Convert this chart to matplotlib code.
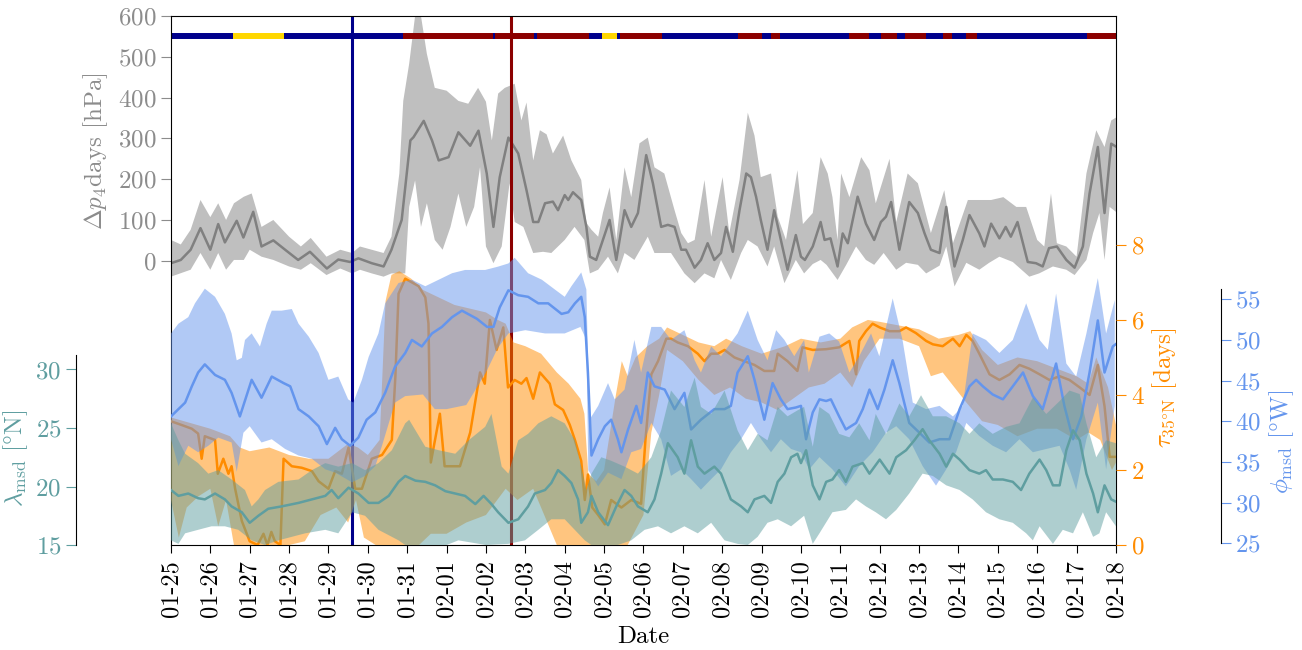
import numpy as np
import pandas as pd
import matplotlib
matplotlib.use('Agg')
import matplotlib.pyplot as plt

plt.rcParams['font.family'] = 'serif'
plt.rcParams['font.serif'] = ['cmr10']
plt.rcParams['mathtext.fontset'] = 'cm'
plt.rcParams['axes.formatter.use_mathtext'] = True
plt.rcParams['axes.unicode_minus'] = False

# time axis in days since 01-25
start_date = '2000-01-25'
n_days = 24

# --- Delta p (4 days) [hPa]
dp_t = [0, 0.25, 0.5, 0.75, 1.0, 1.2, 1.37, 1.67, 1.84, 2.09, 2.3, 2.6, 2.9, 3.23, 3.53, 3.96, 4.25, 4.55, 4.76, 5.1,
        5.4, 5.6, 5.86, 6.08, 6.16, 6.42, 6.63, 6.8, 7.05, 7.3, 7.6, 7.81, 8.02, 8.19, 8.35, 8.57, 8.82, 9.03, 9.2, 9.33,
        9.5, 9.7, 9.83, 10.0, 10.09, 10.21, 10.42, 10.55, 10.64, 10.8, 10.97, 11.14, 11.31, 11.52, 11.69, 11.86, 12.07,
        12.24, 12.45, 12.62, 12.79, 12.96, 13.08, 13.3, 13.46, 13.63, 13.8, 13.97, 14.1, 14.27, 14.44, 14.61, 14.73,
        14.86, 14.98, 15.15, 15.32, 15.49, 15.66, 15.87, 16.0, 16.1, 16.3, 16.5, 16.6, 16.75, 16.93, 17.06, 17.19, 17.44,
        17.65, 17.86, 18.03, 18.16, 18.29, 18.5, 18.75, 18.97, 19.14, 19.3, 19.52, 19.69, 19.9, 20.11, 20.28, 20.53,
        20.66, 20.83, 21.04, 21.2, 21.33, 21.5, 21.76, 21.97, 22.14, 22.3, 22.5, 22.74, 22.95, 23.16, 23.33, 23.54,
        23.71, 23.88, 24.0]
dp_mean = [-6, 2, 27, 80, 27, 90, 45, 98, 57, 120, 35, 50, 27, 2, 22, -19, 3, -3, 6, -6,
           -14, 27, 100, 295, 303, 343, 295, 246, 254, 315, 282, 319, 214, 83, 205, 302, 263, 173, 95, 95,
           141, 145, 124, 161, 149, 168, 149, 83, 10, 2, 51, 100, 2, 124, 83, 117, 259,
           190, 83, 88, 83, 27, 27, -17, 2, 43, 2, 19, 83, 22, 124, 214, 205,
           157, 100, 27, 124, 51, -22, 63, 10, 2, 35, 95, 51, 55, -14, 67, 43, 157,
           91, 51, 95, 108, 144, 27, 144, 117, 67, 27, 19, 132, -14, 51, 112, 67,
           35, 91, 55, 83, 59, 95, -3, -6, -14, 31, 35, 2, -17, 35, 165, 279,
           117, 287, 280]
dp_hi_t = [0, 0.25, 0.5, 0.75, 1.0, 1.2, 1.4, 1.6, 1.85, 2.05, 2.3, 2.6, 3.0, 3.3, 3.55, 3.95, 4.3, 4.6, 4.8, 5.1,
           5.4, 5.6, 5.8, 5.9, 6.05, 6.2, 6.35, 6.5, 6.7, 7.0, 7.3, 7.55, 7.8, 8.0, 8.15, 8.31, 8.48, 8.73, 8.9, 9.03,
           9.2, 9.37, 9.54, 9.7, 9.96, 10.17, 10.42, 10.55, 10.68, 10.85, 10.97, 11.14, 11.31, 11.52, 11.69, 11.9,
           12.11, 12.28, 12.53, 12.79, 12.96, 13.13, 13.3, 13.55, 13.72, 14.01, 14.18, 14.44, 14.65, 14.82, 14.98,
           15.24, 15.41, 15.62, 15.91, 16.05, 16.3, 16.5, 16.68, 16.8, 16.93, 17.02, 17.23, 17.53, 17.74, 17.9, 18.25,
           18.42, 18.71, 18.97, 19.3, 19.64, 19.86, 20.24, 20.58, 20.83, 21.14, 21.47, 21.72, 22.0, 22.18, 22.35,
           22.5, 22.74, 23.0, 23.25, 23.5, 23.71, 23.88, 24.0]
dp_hi = [51, 40, 76, 149, 107, 141, 100, 141, 157, 165, 83, 100, 59, 35, 56, 10, 27, 19, 35, 27,
         19, 59, 214, 392, 483, 600, 600, 507, 424, 417, 392, 385, 424, 390, 295, 410, 424, 434, 344, 388,
         246, 320, 310, 263, 307, 246, 198, 93, 76, 59, 117, 180, 51, 229, 156, 288,
         302, 229, 214, 124, 68, 43, 51, 198, 59, 205, 68, 198, 363, 307, 205,
         214, 108, 51, 222, 90, 117, 254, 214, 156, 51, 214, 156, 254, 222, 141, 250,
         95, 214, 190, 68, 173, 43, 149, 149, 149, 156, 132, 132, 51, 35, 165,
         43, 35, 10, 214, 320, 279, 344, 351]
dp_lo_t = [0, 0.5, 0.75, 1.0, 1.2, 1.4, 1.6, 1.85, 2.0, 2.3, 2.6, 3.0, 3.3, 3.55, 3.95, 4.3, 4.6, 4.8, 5.1, 5.4,
           5.6, 5.95, 6.05, 6.2, 6.35, 6.5, 6.7, 6.9, 7.1, 7.3, 7.5, 7.7, 7.85, 8.0, 8.19, 8.4, 8.6, 8.73, 8.95, 9.2,
           9.45, 9.66, 10.0, 10.25, 10.5, 10.64, 10.85, 11.1, 11.35, 11.52, 11.77, 12.11, 12.28, 12.7, 13.04, 13.3,
           13.55, 13.8, 13.97, 14.22, 14.48, 14.65, 14.9, 15.15, 15.32, 15.58, 15.87, 16.08, 16.3, 16.5, 16.65, 16.93,
           17.15, 17.4, 17.65, 17.86, 18.1, 18.42, 18.67, 18.97, 19.18, 19.52, 19.69, 19.9, 20.2, 20.53, 20.78, 21.04,
           21.38, 21.8, 22.05, 22.4, 22.74, 22.95, 23.25, 23.42, 23.58, 23.71, 23.84, 24.0]
dp_lo = [-39, -22, 19, -22, 19, -22, 2, 2, 27, 10, 2, -14, -22, -6, -35, -19, -31, -22, -31, -39,
         -31, -31, 132, 197, 83, 141, 51, 27, 83, 165, 83, 132, 230, 35, -6, 35, 190, 95, 83, 19,
         22, 19, 51, 83, 51, -31, -22, 10, -31, 19, 2, 59, 19, 19, -31, -55,
         -31, -43, 2, -47, 19, 51, 35, -14, 35, -55, 2, -31, -8, 2, -10, -47,
         -10, 35, 2, -10, 19, -22, -5, -10, -31, -12, 35, -63, -5, -22, -5, 10,
         -3, -39, -31, -14, -22, -35, 2, 68, 117, 2, 132, 120]

# --- tau 35N [days]
tau_t = [0, 0.27, 0.53, 0.69, 0.78, 0.86, 1.12, 1.19, 1.33, 1.46, 1.54, 1.63, 1.8, 2.0, 2.2, 2.35, 2.45, 2.55, 2.64,
         2.78, 2.86, 3.07, 3.32, 3.58, 3.75, 4.0, 4.17, 4.34, 4.51, 4.68, 4.85, 5.1, 5.36, 5.61, 5.7, 5.78, 5.95, 6.29,
         6.46, 6.54, 6.6, 6.83, 6.95, 7.34, 7.6, 7.85, 7.97, 8.1, 8.27, 8.44, 8.56, 8.73, 8.9, 9.03, 9.2, 9.37, 9.62,
         9.75, 9.96, 10.13, 10.26, 10.42, 10.51, 10.59, 10.7, 10.85, 11.02, 11.18, 11.44, 11.69, 11.94, 12.05, 12.2,
         12.37, 12.58, 12.7, 12.87, 13.13, 13.38, 13.55, 13.72, 13.89, 14.06, 14.31, 14.56, 14.82, 15.07, 15.32, 15.41,
         15.66, 15.91, 16.04, 16.3, 16.64, 16.97, 17.23, 17.4, 17.48, 17.65, 17.82, 18.0, 18.25, 18.5, 18.67, 18.92,
         19.18, 19.35, 19.6, 19.86, 20.03, 20.2, 20.36, 20.53, 20.79, 21.04, 21.3, 21.55, 21.8, 22.06, 22.31, 22.57,
         22.82, 23.08, 23.33, 23.54, 23.71, 23.84, 24.0]
tau_mean = [3.3, 3.2, 3.1, 2.97, 2.3, 2.9, 2.8, 1.9, 2.3, 1.9, 2.1, 1.5, 0.64, 0.1, 0.0, 0.3, 0.0, 0.35, 0.1,
            0.0, 2.3, 2.1, 2.06, 1.97, 1.7, 1.5, 1.97, 1.9, 2.6, 1.5, 1.5, 2.3, 2.4, 2.8, 4.5, 6.7, 7.1, 6.9,
            6.6, 5.9, 2.2, 3.5, 2.1, 2.1, 3.0, 4.6, 4.3, 6.0, 5.2, 5.8, 4.2, 4.4, 4.3, 4.45, 3.9, 4.6, 4.3,
            3.75, 3.6, 3.2, 2.8, 2.24, 1.2, 1.88, 1.0, 0.8, 0.55, 1.2, 1.0, 1.2, 1.1, 2.8, 4.55,
            4.9, 5.5, 5.5, 5.4, 5.3, 5.1, 4.9, 5.1, 5.1, 5.2, 5.0, 4.9, 4.8, 4.64, 4.64, 5.1,
            4.9, 4.64, 5.27, 5.2, 5.22, 5.27, 5.44, 4.55, 5.44, 5.7, 5.9, 5.8, 5.7, 5.7, 5.8, 5.65,
            5.44, 5.35, 5.3, 5.5, 5.3, 5.6, 5.44, 5.1, 4.55, 4.4, 4.55, 4.8, 4.7, 4.55, 4.4, 4.5,
            4.4, 4.2, 4.0, 4.8, 3.7, 2.35, 2.35]
tau_hi_t = [0, 0.5, 1.0, 1.5, 1.75, 2.0, 2.5, 3.0, 3.5, 4.0, 4.5, 4.75, 5.0, 5.3, 5.45, 5.6, 5.8, 6.1, 6.4, 6.8,
            7.2, 7.6, 8.0, 8.3, 8.5, 8.7, 9.0, 9.4, 9.8, 10.1, 10.4, 10.5, 10.6, 10.8, 11.0, 11.3, 11.45, 11.6, 11.8,
            12.1, 12.4, 12.6, 13.0, 13.4, 13.8, 14.1, 14.5, 15.0, 15.3, 15.6, 16.0, 16.5, 17.0, 17.3, 17.7, 18.0,
            18.5, 19.0, 19.5, 20.0, 20.3, 20.6, 21.0, 21.5, 22.0, 22.5, 23.0, 23.3, 23.5, 23.8, 24.0]
tau_hi = [3.4, 3.25, 3.1, 2.9, 2.6, 2.5, 2.6, 2.4, 2.3, 2.3, 2.7, 2.6, 2.4, 2.8, 6.5, 7.2, 7.3, 7.1, 6.8, 6.6,
          6.4, 6.3, 6.2, 6.0, 5.9, 5.4, 5.3, 5.1, 4.6, 4.3, 3.9, 3.5, 1.9, 1.7, 2.0, 4.0, 4.9, 4.5, 5.0,
          5.3, 5.5, 5.8, 5.6, 5.4, 5.3, 5.5, 5.3, 5.1, 5.2, 5.3, 5.5, 5.4, 5.5, 5.8, 6.0, 5.95,
          5.85, 5.75, 5.5, 5.6, 5.7, 5.2, 4.8, 5.0, 4.9, 4.7, 4.5, 4.3, 5.0, 4.2, 3.2]
tau_lo_t = [0, 0.2, 0.4, 0.7, 1.0, 1.2, 1.4, 1.6, 2.0, 3.0, 3.4, 3.8, 4.2, 4.5, 4.7, 4.9, 5.2, 5.5, 6.0, 6.3,
            6.6, 7.0, 7.5, 8.0, 8.5, 8.8, 9.2, 9.6, 9.8, 10.2, 10.6, 11.0, 11.6, 12.0, 12.2, 12.4, 12.6, 13.0, 13.4,
            13.8, 14.2, 14.6, 15.0, 15.4, 15.8, 16.2, 16.6, 17.0, 17.3, 17.6, 18.0, 18.5, 19.0, 19.3, 19.6, 19.9,
            20.2, 20.6, 21.0, 21.5, 22.0, 22.5, 23.0, 23.3, 23.6, 23.9, 24.0]
tau_lo = [1.2, 0.2, 1.0, 1.3, 1.5, 0.5, 1.2, 0.0, 0.0, 0.0, 0.1, 0.8, 1.0, 0.6, 1.2, 0.2, 0.0, 0.0, 0.0, 0.0,
          0.3, 0.3, 0.6, 0.8, 1.5, 1.2, 1.5, 0.5, 0.0, 0.0, 0.0, 0.0, 0.0, 0.8, 3.0, 4.0, 5.2, 4.9, 4.4,
          4.0, 4.2, 3.9, 3.8, 3.6, 3.9, 4.2, 4.3, 4.6, 4.2, 4.9, 5.5, 5.5, 5.3, 4.5, 4.6, 4.2,
          3.8, 3.3, 3.2, 2.9, 3.1, 3.1, 2.8, 3.0, 2.8, 2.0, 2.2]

# --- phi msd [deg W]
phi_t = [0, 0.19, 0.36, 0.53, 0.69, 0.86, 1.12, 1.37, 1.54, 1.75, 2.05, 2.3, 2.56, 2.86, 3.03, 3.24, 3.5, 3.75, 3.96,
         4.17, 4.34, 4.55, 4.76, 4.97, 5.19, 5.44, 5.69, 5.95, 6.12, 6.37, 6.63, 6.88, 7.14, 7.39, 7.77, 8.03, 8.19,
         8.35, 8.57, 8.82, 9.07, 9.33, 9.58, 9.92, 10.09, 10.26, 10.42, 10.51, 10.59, 10.68, 10.85, 11.02, 11.18,
         11.35, 11.44, 11.61, 11.82, 11.94, 12.11, 12.28, 12.54, 12.79, 13.04, 13.21, 13.46, 13.8, 14.06, 14.22,
         14.39, 14.65, 14.82, 15.07, 15.28, 15.49, 15.66, 15.87, 16.0, 16.13, 16.3, 16.47, 16.64, 16.76, 16.97,
         17.14, 17.4, 17.57, 17.74, 17.95, 18.12, 18.33, 18.5, 18.75, 19.01, 19.26, 19.52, 19.77, 20.03, 20.28,
         20.45, 20.62, 20.87, 21.13, 21.38, 21.64, 21.89, 22.14, 22.36, 22.48, 22.69, 22.91, 23.12, 23.33, 23.54,
         23.71, 23.92, 24.0]
phi_mean = [40.6, 41.5, 42.3, 44.3, 46.0, 47.0, 45.7, 45.1, 43.5, 40.6, 45.1, 42.9, 45.5, 44.7, 44.3, 41.5, 40.6,
            39.4, 37.2, 39.2, 37.8, 37.0, 38.0, 40.2, 41.1, 43.5, 46.7, 48.4, 50.0, 49.2, 50.8, 51.6, 52.8, 53.6,
            52.6, 51.6, 51.6, 54.0, 56.1, 55.5, 55.3, 54.5, 54.5, 53.2, 53.4, 54.5, 55.3, 52.8, 46.0, 35.8, 37.8,
            39.4, 40.2, 37.8, 36.2, 39.0, 41.9, 39.8, 46.0, 44.3, 43.9, 41.5, 43.5, 39.0, 40.2, 41.5, 41.5, 41.9,
            46.0, 48.0, 45.1, 40.2, 44.7, 42.7, 41.5, 41.7, 41.9, 37.8, 41.1, 42.7, 42.5, 42.7, 40.6, 39.0, 39.8,
            41.5, 43.9, 41.5, 43.9, 47.5, 44.7, 39.8, 38.6, 37.4, 37.8, 37.8, 41.5, 44.3, 45.1, 44.3, 43.3, 42.7,
            44.3, 46.0, 43.1, 41.5, 45.1, 47.1, 41.9, 37.8, 40.6, 46.0, 52.4, 46.0, 49.2, 49.5]
phi_hi_t = [0, 0.19, 0.44, 0.61, 0.86, 1.12, 1.37, 1.54, 1.67, 1.8, 1.88, 2.05, 2.26, 2.43, 2.56, 2.81, 3.07, 3.24,
            3.5, 3.75, 4.0, 4.25, 4.5, 4.63, 4.85, 5.02, 5.27, 5.44, 5.78, 6.12, 6.46, 6.8, 7.14, 7.47, 7.98, 8.3,
            8.57, 8.73, 9.07, 9.42, 9.75, 10.0, 10.17, 10.42, 10.55, 10.63, 10.85, 11.1, 11.27, 11.52, 11.77, 11.94,
            12.2, 12.45, 12.7, 13.04, 13.3, 13.46, 13.72, 13.97, 14.39, 14.65, 14.9, 15.15, 15.37, 15.58, 15.83,
            16.08, 16.2, 16.47, 16.72, 16.97, 17.23, 17.48, 17.78, 17.99, 18.33, 18.58, 18.84, 19.18, 19.52, 19.86,
            20.11, 20.36, 20.7, 21.04, 21.38, 21.72, 22.06, 22.27, 22.48, 22.74, 22.99, 23.25, 23.54, 23.75, 23.97]
phi_hi = [50.8, 52.0, 52.8, 54.5, 56.3, 55.3, 53.2, 50.8, 47.5, 47.8, 50.0, 50.8, 49.2, 52.0, 53.6, 53.6, 53.8, 52.0,
          50.4, 48.4, 45.1, 45.5, 42.7, 42.3, 45.1, 47.9, 50.8, 54.5, 57.0, 57.4, 56.6, 57.4, 58.2, 58.6, 58.6, 59.0,
          59.4, 60.1, 58.2, 57.4, 56.2, 55.3, 56.6, 58.3, 56.2, 40.2, 41.9, 44.7, 42.7, 43.9, 50.0, 46.0,
          51.6, 51.6, 50.0, 51.2, 47.5, 46.0, 49.2, 48.0, 50.8, 53.6, 50.0, 47.5, 51.2, 50.0, 48.0,
          50.0, 46.0, 50.4, 50.8, 49.8, 46.0, 48.0, 50.8, 48.0, 55.1, 50.0, 42.3, 41.5, 41.9, 40.6,
          41.9, 50.8, 50.0, 48.4, 50.0, 54.5, 50.0, 48.8, 55.7, 47.1, 45.5, 50.8, 57.6, 50.8, 54.9]
phi_lo_t = [0, 0.19, 0.44, 0.69, 0.95, 1.2, 1.54, 1.67, 1.84, 2.0, 2.3, 2.56, 2.9, 3.24, 3.58, 3.92, 4.17, 4.6, 4.93,
            5.19, 5.36, 5.69, 5.95, 6.4, 6.7, 7.0, 7.5, 8.0, 8.3, 8.57, 9.0, 9.5, 10.0, 10.4, 10.55, 10.6, 10.85,
            11.1, 11.44, 11.69, 11.94, 12.2, 12.45, 12.7, 12.96, 13.21, 13.46, 13.72, 13.97, 14.22, 14.48, 14.73,
            14.99, 15.24, 15.49, 15.75, 16.0, 16.21, 16.47, 16.8, 17.14, 17.48, 17.82, 18.16, 18.42, 18.75, 19.09,
            19.43, 19.69, 19.94, 20.2, 20.53, 20.87, 21.21, 21.55, 21.89, 22.23, 22.57, 22.82, 22.99, 23.25, 23.54,
            23.75, 23.97]
phi_lo = [37.8, 34.5, 37.0, 36.2, 37.0, 38.0, 37.4, 33.8, 38.6, 39.4, 37.4, 37.8, 36.6, 35.8, 35.4, 34.1, 33.7, 32.5,
          33.3, 34.5, 37.0, 42.3, 43.1, 43.3, 41.5, 41.5, 42.0, 46.0, 49.0, 50.8, 51.2, 50.8, 50.8, 51.6, 50.0, 34.0,
          32.0, 33.7, 32.9, 36.2, 36.6, 39.8, 37.8, 33.3, 34.1, 32.9, 31.6, 32.9, 34.1, 36.2, 37.8, 39.8,
          37.8, 36.2, 37.8, 36.6, 36.2, 34.1, 35.6, 34.1, 32.0, 34.5, 36.2, 38.6, 39.4, 37.8, 34.5,
          32.1, 34.1, 36.2, 39.8, 38.2, 37.0, 36.2, 37.8, 36.2, 36.6, 37.0, 34.1, 31.6, 37.8, 42.3,
          34.1, 41.9]

# --- lambda msd [deg N]
lam_t = [0, 0.19, 0.44, 0.69, 0.86, 1.12, 1.37, 1.54, 1.8, 2.0, 2.22, 2.47, 2.81, 3.24, 3.58, 3.92, 4.08, 4.25, 4.51,
         4.76, 5.02, 5.27, 5.53, 5.78, 5.95, 6.21, 6.46, 6.71, 6.97, 7.22, 7.47, 7.73, 7.94, 8.14, 8.31, 8.57, 8.82,
         9.07, 9.24, 9.5, 9.66, 9.83, 10.0, 10.17, 10.34, 10.42, 10.59, 10.68, 10.85, 11.1, 11.31, 11.52, 11.69,
         11.86, 12.11, 12.28, 12.45, 12.62, 12.87, 13.04, 13.21, 13.38, 13.55, 13.8, 13.97, 14.22, 14.48, 14.65,
         14.82, 15.07, 15.24, 15.41, 15.58, 15.75, 15.91, 16.0, 16.13, 16.3, 16.47, 16.64, 16.8, 16.97, 17.14,
         17.31, 17.57, 17.74, 18.0, 18.25, 18.42, 18.67, 18.88, 19.09, 19.26, 19.52, 19.69, 19.86, 20.03, 20.28,
         20.53, 20.7, 20.87, 21.13, 21.38, 21.59, 21.8, 22.06, 22.23, 22.4, 22.57, 22.74, 22.91, 23.08, 23.25,
         23.42, 23.54, 23.71, 23.88, 24.0]
lam_mean = [19.7, 19.2, 19.4, 19.0, 18.9, 19.4, 18.9, 18.3, 17.8, 16.9, 17.5, 18.1, 18.3, 18.6, 18.9, 19.2, 19.7,
            19.0, 19.9, 19.4, 18.6, 18.6, 19.2, 20.4, 20.9, 20.5, 20.4, 20.1, 19.6, 19.4, 19.2, 18.5, 19.2, 18.5,
            17.8, 16.9, 17.2, 18.3, 19.4, 19.7, 20.3, 21.4, 20.9, 20.3, 18.9, 16.9, 17.8, 19.2, 17.8, 16.7, 18.3,
            19.7, 19.2, 18.3, 17.8, 18.9, 21.1, 23.7, 22.5, 21.1, 23.95, 21.7, 21.1, 21.7, 21.1, 18.9, 18.3, 17.8,
            18.9, 19.2, 18.6, 20.4, 21.1, 22.5, 22.8, 22.0, 23.1, 20.1, 18.9, 20.4, 20.6, 21.4, 20.4,
            21.7, 22.0, 21.1, 22.3, 21.1, 22.5, 23.1, 23.95, 24.9, 23.95, 22.8, 21.7, 22.8, 22.3, 21.4,
            21.1, 21.4, 20.6, 20.6, 20.4, 19.7, 21.1, 22.3, 21.4, 20.1, 20.1, 23.1, 24.8, 23.95, 21.1,
            19.4, 17.8, 20.1, 18.9, 18.7]
lam_hi_t = [0, 0.19, 0.36, 0.69, 0.95, 1.2, 1.54, 1.88, 2.05, 2.22, 2.39, 2.73, 3.24, 3.58, 3.92, 4.25, 4.6, 4.93,
            5.27, 5.61, 5.95, 6.05, 6.46, 6.8, 7.22, 7.56, 7.98, 8.14, 8.4, 8.57, 8.82, 9.07, 9.33, 9.66, 10.0, 10.26,
            10.42, 10.55, 10.68, 10.93, 11.18, 11.52, 11.86, 12.2, 12.45, 12.7, 13.04, 13.3, 13.46, 13.72, 14.06,
            14.39, 14.65, 14.9, 15.15, 15.41, 15.66, 15.91, 16.08, 16.3, 16.47, 16.72, 16.97, 17.23, 17.48, 17.74,
            17.9, 18.16, 18.5, 18.75, 19.05, 19.35, 19.69, 20.03, 20.28, 20.53, 20.87, 21.21, 21.55, 21.89, 22.23,
            22.57, 22.82, 23.08, 23.25, 23.5, 23.75, 24.0]
lam_hi = [25.4, 23.95, 22.8, 22.0, 21.1, 21.4, 20.6, 19.7, 18.3, 18.9, 19.7, 20.4, 20.6, 21.4, 22.0, 21.7, 22.0, 21.4,
          22.0, 23.1, 25.4, 25.7, 23.4, 23.1, 22.8, 23.95, 25.1, 26.2, 21.7, 21.1, 23.95, 24.5, 25.4, 26.0, 25.4,
          23.95, 21.7, 19.7, 21.1, 22.5, 22.2, 21.7, 21.1, 22.5, 24.8, 28.2, 26.8, 29.3, 26.8, 26.2, 28.2,
          24.8, 23.1, 24.5, 23.95, 26.8, 26.0, 26.5, 26.8, 23.4, 26.8, 26.2, 24.5, 24.2, 25.4, 23.95,
          26.2, 24.5, 27.1, 26.0, 27.8, 26.0, 26.0, 25.4, 24.5, 25.4, 24.5, 25.1, 25.4, 27.6, 26.2,
          27.3, 28.2, 27.9, 25.4, 22.5, 23.95, 23.7]
lam_lo_t = [0, 0.19, 0.36, 0.69, 1.03, 1.37, 1.71, 2.05, 2.39, 2.73, 3.07, 3.41, 3.92, 4.25, 4.6, 4.93, 5.27, 5.61,
            5.78, 5.95, 7.0, 7.3, 8.0, 8.57, 8.99, 9.33, 9.66, 10.0, 10.34, 10.51, 10.76, 11.1, 11.35, 11.69, 12.03,
            12.37, 12.7, 13.04, 13.38, 13.72, 14.06, 14.39, 14.65, 14.9, 15.15, 15.41, 15.75, 16.08, 16.3, 16.47,
            16.8, 17.14, 17.4, 17.65, 17.9, 18.16, 18.42, 18.75, 19.09, 19.35, 19.69, 20.03, 20.36, 20.7, 21.04,
            21.38, 21.72, 21.89, 22.06, 22.4, 22.65, 22.91, 23.16, 23.42, 23.58, 23.75, 24.0]
lam_lo = [15.4, 15.1, 16.0, 16.3, 16.6, 16.6, 16.3, 15.4, 15.0, 15.4, 15.7, 16.0, 16.3, 16.0, 17.8, 17.5, 16.3, 15.7,
          15.4, 15.0, 15.0, 15.4, 15.0, 15.1, 15.4, 16.3, 17.2, 17.2, 16.0, 15.4, 14.8, 14.6, 15.0, 15.4, 16.3,
          16.6, 16.0, 16.6, 16.0, 16.9, 15.4, 15.1, 15.0, 15.7, 16.9, 17.2, 16.6, 17.5, 15.1, 16.0,
          17.8, 18.0, 18.9, 18.3, 17.8, 17.2, 18.0, 19.4, 21.1, 20.9, 20.1, 19.7, 18.9, 17.8, 17.2,
          16.9, 16.0, 15.4, 16.6, 15.1, 16.3, 16.0, 17.8, 15.7, 16.0, 17.8, 16.6]

# --- weather regime bar (start day of each segment, regime code)
regime_start = [0.0, 1.575, 2.87, 5.89, 8.18, 8.23, 9.22, 9.30, 10.62, 10.95, 11.33, 11.40, 12.47, 14.40, 15.01,
                15.24, 15.47, 17.22, 17.73, 18.03, 18.44, 18.64, 19.17, 19.61, 19.83, 20.19, 20.47, 23.26]
regime_code = [0, 1, 0, 2, 0, 2, 0, 2, 0, 1, 0, 2, 0, 2, 0, 2, 0, 2, 0, 2, 0, 2, 0, 2, 0, 2, 0, 2]
regime_colors = ['darkblue', 'gold', 'darkred']
regime_level = 550

# marked events
event_days = [4.6, 8.63]
event_colors = ['darkblue', 'darkred']

c_dp = 'gray'
c_tau = 'darkorange'
c_phi = 'cornflowerblue'
c_lam = 'cadetblue'
lab_dp = '#8c8c8c'


def band(a, t_hi, hi, t_lo, lo, color):
    xs = np.r_[np.asarray(t_hi), np.asarray(t_lo)[::-1]]
    ys = np.r_[np.asarray(hi), np.asarray(lo)[::-1]]
    a.fill(xs, ys, color=color, alpha=0.5, lw=0)


fig = plt.figure(figsize=(13.02, 6.5), dpi=100)
ax = fig.add_axes([0.1313, 0.1615, 0.7258, 0.8138])
ax_tau = ax.twinx()
ax_phi = ax.twinx()
ax_lam = ax.twinx()

# host: pressure tendency, regimes, events
band(ax, dp_hi_t, dp_hi, dp_lo_t, dp_lo, c_dp)
ax.plot(dp_t, dp_mean, color=c_dp, lw=1.8)
ends = regime_start[1:] + [n_days]
for s, e, c in zip(regime_start, ends, regime_code):
    ax.plot([s, e], [regime_level, regime_level], color=regime_colors[c], lw=4.3, solid_capstyle='butt')
for d, c in zip(event_days, event_colors):
    ax.axvline(d, color=c, lw=2.2)

band(ax_tau, tau_hi_t, tau_hi, tau_lo_t, tau_lo, c_tau)
ax_tau.plot(tau_t, tau_mean, color=c_tau, lw=1.8)

band(ax_phi, phi_hi_t, phi_hi, phi_lo_t, phi_lo, c_phi)
ax_phi.plot(phi_t, phi_mean, color=c_phi, lw=1.8)

band(ax_lam, lam_hi_t, lam_hi, lam_lo_t, lam_lo, c_lam)
ax_lam.plot(lam_t, lam_mean, color=c_lam, lw=1.8)

ax.set_xlim(0, n_days)
ax.set_ylim(-697, 600)
ax_tau.set_ylim(0, 14.1)
ax_phi.set_ylim(24.8, 89.8)
ax_lam.set_ylim(15, 60.2)

ax.set_yticks(range(0, 601, 100))
ax_tau.set_yticks([0, 2, 4, 6, 8])
ax_phi.set_yticks(range(25, 56, 5))
ax_lam.set_yticks([15, 20, 25, 30])

days = pd.date_range(start_date, periods=n_days + 1, freq='D')
ax.set_xticks(np.arange(n_days + 1))
ax.set_xticklabels(days.strftime('%m-%d'), rotation=90, fontsize=17.5)
ax.set_xlabel('Date', fontsize=18, labelpad=6)

for a in (ax_tau, ax_phi, ax_lam):
    for sp in a.spines.values():
        sp.set_visible(False)

ax_phi.spines['right'].set_visible(True)
ax_phi.spines['right'].set_position(('axes', 1.111))
ax_phi.spines['right'].set_bounds(25, 56.3)

ax_lam.yaxis.tick_left()
ax_lam.yaxis.set_label_position('left')
ax_lam.spines['left'].set_visible(True)
ax_lam.spines['left'].set_position(('axes', -0.1005))
ax_lam.spines['left'].set_bounds(15, 31.2)

ax.tick_params(axis='y', colors=lab_dp, labelsize=18, length=7)
ax.tick_params(axis='x', labelsize=17.5, length=6, pad=5)
ax_tau.tick_params(axis='y', colors=c_tau, labelsize=18, length=7)
ax_phi.tick_params(axis='y', colors=c_phi, labelsize=18, length=7)
ax_lam.tick_params(axis='y', colors=c_lam, labelsize=18, length=7)

ax.set_ylabel(r'$\Delta p_4$days [hPa]', color=lab_dp, fontsize=18)
ax.yaxis.set_label_coords(-0.064, 0.745)
ax_tau.set_ylabel(r'$\tau_{35\degree\mathrm{N}}$ [days]', color=c_tau, fontsize=18)
ax_tau.yaxis.set_label_coords(1.036, 0.297)
ax_phi.set_ylabel(r'$\phi_\mathrm{msd}$ $[\degree\mathrm{W}]$', color=c_phi, fontsize=18)
ax_phi.yaxis.set_label_coords(1.160, 0.195)
ax_lam.set_ylabel(r'$\lambda_\mathrm{msd}$ $[\degree\mathrm{N}]$', color=c_lam, fontsize=18)
ax_lam.yaxis.set_label_coords(-0.149, 0.163)

fig.savefig('out.png', dpi=100)
